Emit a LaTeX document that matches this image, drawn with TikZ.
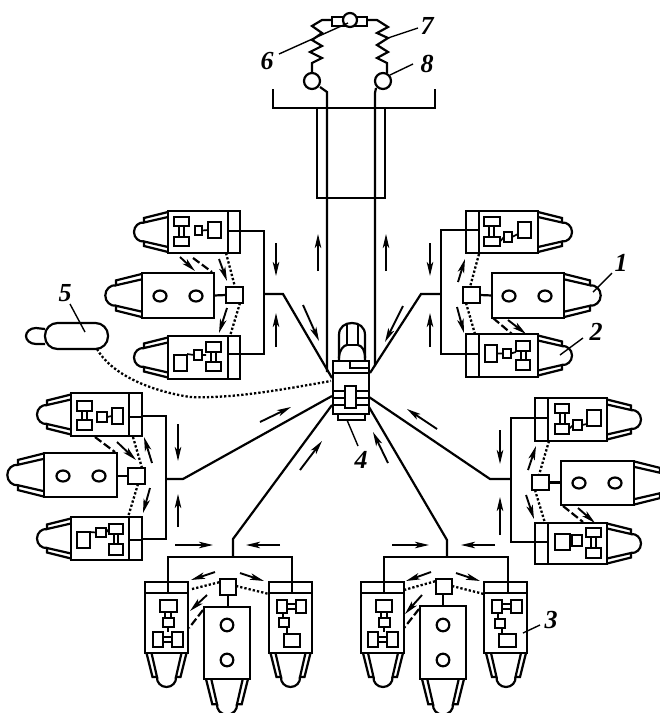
\documentclass[tikz,border=0pt]{standalone}
\usepackage{fontspec}
\setmainfont{Liberation Serif}
\usetikzlibrary{arrows.meta}
\tikzset{
  line/.style={line width=2.2pt,line join=miter},
  part/.style={draw,line width=2pt,inner sep=0pt,outer sep=0pt,fill=white},
  dots/.style={line width=2.3pt,dash pattern=on 2.3pt off 2pt},
  dash line/.style={line width=2.2pt,dash pattern=on 8pt off 3pt},
  flow/.style={line width=1.9pt,-{Stealth[length=14pt,width=6.5pt,inset=3.5pt]}},
  tag/.style={font=\bfseries\itshape\fontsize{26}{26}\selectfont,inner sep=0pt},
  lead/.style={line width=1.4pt},
  link/.style={line width=1.7pt}
}
% name x1 y1 x2 y2
\newcommand\bx[5]{\node[part,minimum width={(#4-#2)*1pt},minimum height={(#5-#3)*1pt}] (#1) at ({(#2+#4)/2},{(#3+#5)/2}) {};}
% x y rotation scale
\newcommand\nozzle[4]{\begin{scope}[shift={(#1,#2)},rotate=#3,scale=#4]
  \draw[line] (0,-20) -- (-24,-14) -- (-24,-9.5) -- (0,-15);
  \draw[line] (0,20) -- (-24,14) -- (-24,9.5) -- (0,15);
  \draw[line] (-24,-9.5) .. controls (-29,-10) and (-34,-6) .. (-34,0) .. controls (-34,6) and (-29,10) .. (-24,9.5);
\end{scope}}
\newcommand\pairv[4]{\draw[link] (#1,#3) -- (#1,#4) (#2,#3) -- (#2,#4);}
\newcommand\pairh[4]{\draw[link] (#1,#3) -- (#2,#3) (#1,#4) -- (#2,#4);}
\begin{document}
\begin{tikzpicture}[x=1pt,y=-1pt]
\useasboundingbox (0,0) rectangle (660,713);
\clip (0,0) rectangle (660,713);
\fill[white] (0,0) rectangle (660,713);

% ===== top structure =====
\draw[line] (273,89) -- (273,108) -- (435,108) -- (435,89);
\draw[line] (317,108) -- (317,198) -- (385,198) -- (385,108);
\coordinate (hubL) at (327,372);
\coordinate (hubR) at (375,366);
\draw[line] (320,87) -- (327,92) -- (hubL);
\draw[line] (376,88) -- (375,93) -- (hubR);
\draw[line] (312,73) -- (312,63) -- (322,58) -- (310,52) -- (322,46) -- (312,40) -- (322,33) -- (312,26) -- (322,20) -- (332,20);
\draw[line] (387,73) -- (387,63) -- (377,58) -- (388,52) -- (377,45) -- (388,38) -- (377,33) -- (388,27) -- (377,20) -- (367,20);
\draw[line,fill=white] (312,81) circle[radius=8];
\draw[line,fill=white] (383,81) circle[radius=8];
\bx{valve}{332}{17}{367}{26}
\draw[line,fill=white] (350,20) circle[radius=7];

% ===== upper left group =====
\nozzle{168}{232}{0}{1}
\nozzle{142}{295.5}{0}{1.08}
\nozzle{168}{357.5}{0}{1}
\bx{ulA}{168}{211}{240}{253}
\draw[line] (228,211) -- (228,253) (228,231) -- (240,231);
\bx{ulC}{142}{273}{214}{318}
\bx{ulS}{226}{287}{243}{303}
\draw[line] (ulC.east) -- (ulS.west);
\draw[line] (160,296) ellipse[x radius=6.5,y radius=5.5] (196,296) ellipse[x radius=6.5,y radius=5.5];
\bx{ulB}{168}{336}{240}{379}
\draw[line] (228,336) -- (228,379) (228,354) -- (240,354);
\pairv{179}{184}{226}{237}
\bx{a1}{174}{217}{189}{226}\bx{a2}{174}{237}{189}{246}\bx{a3}{195}{226}{202}{235}\bx{a4}{208}{222}{221}{238}
\draw[link] (a3.east) -- (a4.west);
\pairv{211}{216}{352}{362}
\bx{b1}{174}{355}{187}{371}\bx{b2}{194}{350}{202}{360}\bx{b3}{206}{342}{221}{352}\bx{b4}{206}{362}{221}{371}
\draw[link] (187,354) -- (b2.west) (b2.east) -- (206,355);
\coordinate (busUL) at (264,294);
\draw[line] (240,231) -- (264,231) -- (264,354) -- (240,354);
\coordinate (hubUL) at (332,378);
\draw[line] (busUL) -- (283,294) -- (hubUL);
\draw[flow] (276,243) -- (276,276);
\draw[flow] (276,347) -- (276,313);
\draw[flow] (180,257) -- (195,271);
\draw[dash line] (193,258) -- (212,272);
\draw[flow] (219,259) -- (227,281);
\draw[dots] (226,253) -- (235,287);
\draw[flow] (227,308) -- (219,333);
\draw[dots] (240,303) -- (230,336);

% ===== upper right group =====
\nozzle{538}{232}{180}{1}
\nozzle{564}{295.5}{180}{1.08}
\nozzle{538}{355.5}{180}{1}
\bx{urA}{466}{211}{538}{253}
\draw[line] (479,211) -- (479,253) (466,230) -- (479,230);
\bx{urC}{492}{273}{564}{318}
\bx{urS}{463}{287}{480}{303}
\draw[line] (urS.east) -- (urC.west);
\draw[line] (509,296) ellipse[x radius=6.5,y radius=5.5] (545,296) ellipse[x radius=6.5,y radius=5.5];
\bx{urB}{466}{334}{538}{377}
\draw[line] (479,334) -- (479,377) (466,354) -- (479,354);
\pairv{489}{494}{226}{237}
\bx{c1}{484}{217}{500}{226}\bx{c2}{484}{237}{500}{246}\bx{c3}{504}{232}{512}{242}\bx{c4}{518}{222}{531}{238}
\draw[link] (c2.east) -- (c3.west) (c3.east) -- (518,234);
\pairv{521}{526}{351}{360}
\bx{d1}{485}{345}{497}{362}\bx{d2}{503}{349}{511}{358}\bx{d3}{516}{341}{530}{351}\bx{d4}{516}{360}{530}{370}
\draw[link] (d1.east) -- (d2.west) (d2.east) -- (516,352);
\coordinate (busUR) at (441,294);
\draw[line] (466,230) -- (441,230) -- (441,354) -- (466,354);
\coordinate (hubUR) at (370,373);
\draw[line] (busUR) -- (421,294) -- (hubUR);
\draw[flow] (430,243) -- (430,276);
\draw[flow] (430,347) -- (430,313);
\draw[dots] (479,254) -- (470,287);
\draw[flow] (458,282) -- (465,259);
\draw[dots] (466,303) -- (475,334);
\draw[flow] (457,307) -- (464,333);
\draw[dash line] (493,318) -- (512,334);
\draw[flow] (508,320) -- (526,334);

% ===== middle left group =====
\nozzle{71}{414.5}{0}{1}
\nozzle{44}{475}{0}{1.08}
\nozzle{71}{538.5}{0}{1}
\bx{mlA}{71}{393}{142}{436}
\draw[line] (129,393) -- (129,436) (129,417) -- (142,417);
\bx{mlC}{44}{453}{117}{497}
\bx{mlS}{128}{468}{145}{484}
\draw[line] (mlC.east |- mlS.west) -- (mlS.west);
\draw[line] (63,476) ellipse[x radius=6.5,y radius=5.5] (99,476) ellipse[x radius=6.5,y radius=5.5];
\bx{mlB}{71}{517}{142}{560}
\draw[line] (129,517) -- (129,560) (129,540) -- (142,540);
\pairv{82}{87}{411}{420}
\bx{e1}{77}{401}{92}{411}\bx{e2}{77}{420}{92}{430}\bx{e3}{97}{412}{107}{422}\bx{e4}{112}{408}{123}{424}
\draw[link] (e3.east) -- (e4.west);
\pairv{114}{118}{534}{544}
\bx{f1}{77}{532}{90}{548}\bx{f2}{96}{528}{106}{537}\bx{f3}{109}{524}{123}{534}\bx{f4}{109}{544}{123}{555}
\draw[link] (90,532) -- (f2.west) (f2.east) -- (f3.west);
\coordinate (busML) at (166,479);
\draw[line] (142,416) -- (166,416) -- (166,539) -- (142,539);
\coordinate (hubML) at (332,396);
\draw[line] (busML) -- (183,479) -- (hubML);
\draw[flow] (178,424) -- (178,461);
\draw[flow] (178,527) -- (178,494);
\draw[dash line] (95,437) -- (115,452);
\draw[flow] (117,442) -- (136,460);
\draw[dots] (133,437) -- (142,468);
\draw[flow] (152,463) -- (144,437);
\draw[flow] (150,488) -- (143,513);
\draw[dots] (138,484) -- (128,517);

% ===== middle right group =====
\nozzle{607}{419.5}{180}{1}
\nozzle{634}{483}{180}{1.08}
\nozzle{607}{543.5}{180}{1}
\bx{mrA}{535}{398}{607}{441}
\draw[line] (548,398) -- (548,441) (535,418) -- (548,418);
\bx{mrC}{561}{461}{634}{505}
\bx{mrS}{532}{475}{549}{490}
\draw[line] (mrS.east) -- (561,482.5);
\draw[line] (579,483) ellipse[x radius=6.5,y radius=5.5] (615,483) ellipse[x radius=6.5,y radius=5.5];
\bx{mrB}{535}{523}{607}{564}
\draw[line] (548,523) -- (548,564) (535,542) -- (548,542);
\pairv{560}{565}{413}{424}
\bx{g1}{555}{404}{569}{413}\bx{g2}{555}{424}{569}{434}\bx{g3}{573}{420}{582}{430}\bx{g4}{587}{410}{601}{426}
\draw[link] (g2.east) -- (g3.west) (g3.east) -- (587,424);
\pairv{591}{596}{537}{548}
\bx{h1}{555}{534}{570}{550}\bx{h2}{572}{535}{582}{546}\bx{h3}{586}{528}{601}{537}\bx{h4}{586}{548}{601}{558}
\draw[link] (h1.east) -- (h2.west);
\coordinate (busMR) at (511,479);
\draw[line] (535,418) -- (511,418) -- (511,542) -- (535,542);
\coordinate (hubMR) at (369,397);
\draw[line] (busMR) -- (490,479) -- (hubMR);
\draw[flow] (500,430) -- (500,464);
\draw[flow] (500,535) -- (500,497);
\draw[dots] (549,441) -- (539,475);
\draw[flow] (528,470) -- (536,446);
\draw[dots] (535,490) -- (545,523);
\draw[flow] (526,495) -- (534,519);
\draw[dash line] (563,506) -- (583,522);
\draw[flow] (578,508) -- (595,523);

% ===== bottom left group =====
\nozzle{166.5}{653}{90}{1}
\nozzle{290.5}{653}{90}{1}
\nozzle{227}{679}{90}{1.05}
\bx{blA}{145}{582}{188}{653}
\draw[line] (145,593) -- (188,593) (168,582) -- (168,593);
\bx{blB}{269}{582}{312}{653}
\draw[line] (269,593) -- (312,593) (292,582) -- (292,593);
\bx{blC}{204}{607}{250}{679}
\bx{blS}{220}{579}{236}{595}
\draw[line] (228,595) -- (228,607);
\draw[line] (227,625) circle[radius=6.3] (227,660) circle[radius=6.3];
\pairv{165}{171}{612}{618}
\pairh{163}{172}{637}{642}
\draw[link] (168,627) -- (168,632);
\bx{i1}{160}{600}{177}{612}\bx{i2}{163}{618}{174}{627}\bx{i3}{153}{632}{163}{647}\bx{i4}{172}{632}{183}{647}
\pairh{287}{296}{604}{609}
\bx{j1}{277}{600}{287}{613}\bx{j2}{296}{600}{306}{613}\bx{j3}{279}{618}{289}{627}\bx{j4}{284}{634}{300}{647}
\draw[link] (283,613) -- (283,618) (287,627) -- (287,634);
\coordinate (busBL) at (233,557);
\draw[line] (168,582) -- (168,557) -- (292,557) -- (292,582);
\coordinate (hubBL) at (332,405);
\draw[line] (busBL) -- (233,539) -- (hubBL);
\draw[flow] (175,545) -- (213,545);
\draw[flow] (280,545) -- (246,545);
\draw[flow] (215,572) -- (191,580);
\draw[flow] (240,573) -- (264,581);
\draw[dots] (192,589) -- (220,582);
\draw[dots] (236,586) -- (269,594);
\draw[flow] (207,595) -- (190,611);
\draw[dash line] (203,610) -- (189,628);

% ===== bottom right group =====
\nozzle{383}{653}{90}{1}
\nozzle{506}{653}{90}{1}
\nozzle{443}{679}{90}{1.05}
\bx{brA}{361}{582}{404}{653}
\draw[line] (361,593) -- (404,593) (384,582) -- (384,593);
\bx{brB}{484}{582}{527}{653}
\draw[line] (484,593) -- (527,593) (508,582) -- (508,593);
\bx{brC}{420}{606}{466}{679}
\bx{brS}{436}{579}{452}{594}
\draw[line] (443,594) -- (443,606);
\draw[line] (443,625) circle[radius=6.3] (443,660) circle[radius=6.3];
\pairv{381}{387}{612}{618}
\pairh{378}{387}{637}{642}
\draw[link] (384,627) -- (384,632);
\bx{k1}{376}{600}{392}{612}\bx{k2}{379}{618}{390}{627}\bx{k3}{368}{632}{378}{647}\bx{k4}{387}{632}{398}{647}
\pairh{502}{511}{604}{609}
\bx{l1}{492}{600}{502}{613}\bx{l2}{511}{600}{522}{613}\bx{l3}{495}{619}{505}{628}\bx{l4}{499}{634}{516}{647}
\draw[link] (498,613) -- (498,619) (502,628) -- (502,634);
\coordinate (busBR) at (447,557);
\draw[line] (384,582) -- (384,557) -- (508,557) -- (508,582);
\coordinate (hubBR) at (369,407);
\draw[line] (busBR) -- (447,540) -- (hubBR);
\draw[flow] (392,545) -- (429,545);
\draw[flow] (495,545) -- (461,545);
\draw[flow] (431,572) -- (406,581);
\draw[flow] (456,573) -- (480,581);
\draw[dots] (404,590) -- (436,581);
\draw[dots] (452,586) -- (484,594);
\draw[flow] (422,595) -- (405,614);
\draw[dash line] (419,609) -- (404,628);

% ===== hub (centre) =====
\draw[flow] (318,271) -- (318,234);
\draw[flow] (386,271) -- (386,234);
\draw[flow] (303,305) -- (319,341);
\draw[flow] (403,306) -- (385,342);
\draw[flow] (260,422) -- (291,407);
\draw[flow] (437,429) -- (407,409);
\draw[flow] (300,470) -- (322,441);
\draw[flow] (388,463) -- (373,432);
\draw[line] (339,361) -- (339,335) .. controls (339,327) and (345,323) .. (352,323) .. controls (359,323) and (365,327) .. (365,335) -- (365,361);
\draw[line] (347,324) -- (347,345) -- (358,345) -- (358,324);
\draw[line] (339,358) .. controls (339,350) and (344,345) .. (347,345) (358,345) .. controls (362,346) and (365,350) .. (365,358);
\bx{hubBase}{338}{414}{365}{420}
\bx{hub}{333}{361}{369}{414}
\draw[line] (350,361) -- (350,368) -- (369,368) (333,373) -- (369,373);
\pairh{333}{345}{391}{398}
\pairh{333}{345}{405}{405}
\pairh{355}{369}{391}{398}
\pairh{355}{369}{405}{405}
\bx{hubCore}{345}{386}{356}{408}

% ===== tank =====
\draw[line] (45,329) -- (36,328) .. controls (30,328) and (26,332) .. (26,336) .. controls (26,340) and (30,344) .. (36,344) -- (45,344);
\node[part,line width=2.2pt,minimum width=63pt,minimum height=26pt,rounded corners=12.5pt] (tank) at (76.5,336) {};
\coordinate (tankOut) at (97,349);
\draw[dots] (tankOut) .. controls (110,372) and (145,390) .. (190,397) .. controls (235,399) and (290,388) .. (331,381);

% ===== labels and leaders =====
\node[tag] (n1) at (621,263) {1};
\node[tag] (n2) at (596,332) {2};
\node[tag] (n3) at (551,620) {3};
\node[tag] (n4) at (361,460) {4};
\node[tag] (n5) at (65,293) {5};
\node[tag] (n6) at (267,61) {6};
\node[tag] (n7) at (427,26) {7};
\node[tag] (n8) at (427,64) {8};
\draw[lead] (612,273) -- (593,292);
\draw[lead] (583,338) -- (560,355);
\draw[lead] (540,625) -- (523,633);
\draw[lead] (hubBase.south west) ++(9,0) -- (358,446);
\draw[lead] (70,304) -- (85,332);
\draw[lead] (279,54) -- (348,23);
\draw[lead] (418,28) -- (388,38);
\draw[lead] (413,64) -- (390,75);
\end{tikzpicture}
\end{document}
